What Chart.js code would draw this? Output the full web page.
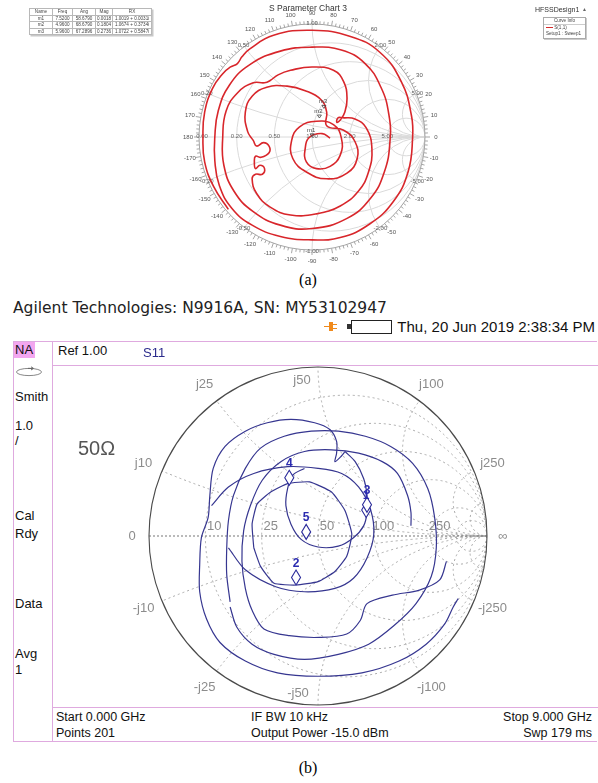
<!DOCTYPE html>
<html>
<head>
<meta charset="utf-8">
<script src="https://cdn.jsdelivr.net/npm/chart.js@4/dist/chart.umd.min.js"></script>
<style>
body { margin:0; width:598px; height:783px; position:relative; background:#fff; overflow:hidden;
       font-family:"Liberation Sans", Arial, sans-serif; }
.abs { position:absolute; white-space:nowrap; }
.tbl { position:absolute; left:29px; top:8px; border-collapse:collapse; font-size:4.6px; color:#444;
       background:#fff; box-shadow:1.5px 1.5px 0 #c8c8c8; }
.tbl td, .tbl th { border:1px solid #b8b8b8; padding:0 1px; height:5.6px; line-height:5.6px;
       font-weight:normal; text-align:center; }
.pk { position:absolute; background:#dfaadf; }
.na { font-size:13px; color:#111; }
.cap { position:absolute; width:60px; text-align:center; font-family:"Liberation Serif", "Times New Roman", serif; font-size:16px; }
</style>
</head>
<body>

<!-- (a) HFSS smith chart -->
<canvas id="chartA" class="abs" style="left:0;top:0" width="598" height="268"></canvas>
<div class="abs" style="left:208px;top:3px;width:200px;text-align:center;font-size:8.5px;color:#333">S Parameter Chart 3</div>
<table class="tbl" id="mkTable">
  <tr><th style="width:20px">Name</th><th style="width:17px">Freq</th><th style="width:20px">Ang</th><th style="width:14px">Mag</th><th style="width:36px">RX</th></tr>
</table>
<div class="abs" style="left:535px;top:6px;font-size:7px;color:#333">HFSSDesign1</div>
<div class="abs" style="left:582px;top:6px;font-size:5px;color:#666">&#9650;</div>
<div class="abs" style="left:543px;top:17px;width:41px;height:20px;border:1px solid #aaa;box-shadow:1px 1px 0 #ccc;font-size:4.6px;color:#444;line-height:6px">
  <div style="text-align:center;border-bottom:1px solid #ccc">Curve Info</div>
  <div style="padding-left:2px"><span style="display:inline-block;width:7px;border-top:1px solid #d62a2a;vertical-align:middle"></span> S(1,1)</div>
  <div style="padding-left:2px">Setup1 : Sweep1</div>
</div>
<div class="cap" style="left:278px;top:271px">(a)</div>

<!-- (b) analyzer screen -->
<div class="abs" style="left:13px;top:299px;font-size:15.5px;color:#222;font-family:'DejaVu Sans'">Agilent Technologies: N9916A, SN: MY53102947</div>
<svg class="abs" style="left:323px;top:320px" width="16" height="13" viewBox="0 0 16 13">
  <path d="M1 6 L6 6 L6 2 L10 2 L10 4 L14 4 L14 5 L10 5 L10 8 L14 8 L14 9 L10 9 L10 11 L6 11 L6 7 L1 7 Z" fill="#f08a1c"/>
</svg>
<div class="abs" style="left:347px;top:324px;width:4px;height:5px;background:#333"></div>
<div class="abs" style="left:351px;top:320px;width:39px;height:12px;border:1px solid #222;background:#fff"></div>
<div class="abs" style="right:3px;top:318px;font-size:15px;color:#111">Thu, 20 Jun 2019 2:38:34 PM</div>

<div class="pk" style="left:13px;top:341px;width:584px;height:1px"></div>
<div class="pk" style="left:13px;top:741px;width:584px;height:1px"></div>
<div class="pk" style="left:13px;top:341px;width:1px;height:401px"></div>
<div class="pk" style="left:52px;top:341px;width:1px;height:401px"></div>
<div class="pk" style="left:52px;top:365px;width:546px;height:1px"></div>
<div class="pk" style="left:52px;top:707px;width:546px;height:1px"></div>
<div class="abs" style="left:14px;top:342px;width:21px;height:16px;background:#f3a6f0"></div>

<canvas id="chartB" class="abs" style="left:53px;top:366px" width="543" height="340"></canvas>

<div class="abs na" style="left:15px;top:342px">NA</div>
<svg class="abs" style="left:15px;top:366px" width="30" height="12" viewBox="0 0 30 12">
  <ellipse cx="14" cy="6" rx="12.5" ry="3.6" fill="none" stroke="#888" stroke-width="1"/>
  <path d="M13 2.4 L18 2.4 M16 0.8 L18.5 2.4 L16 4" fill="none" stroke="#666" stroke-width="1"/>
</svg>
<div class="abs na" style="left:15px;top:389px">Smith</div>
<div class="abs na" style="left:15px;top:418px">1.0</div>
<div class="abs na" style="left:15px;top:433px">/</div>
<div class="abs na" style="left:15px;top:508px">Cal</div>
<div class="abs na" style="left:15px;top:526px">Rdy</div>
<div class="abs na" style="left:15px;top:596px">Data</div>
<div class="abs na" style="left:15px;top:646px">Avg</div>
<div class="abs na" style="left:15px;top:662px">1</div>

<div class="abs na" style="left:58px;top:343px">Ref 1.00</div>
<div class="abs" style="left:143px;top:345px;font-size:13px;color:#2c2c8c">S11</div>
<div class="abs" style="left:78px;top:437px;font-size:20px;color:#555">50&Omega;</div>

<div class="abs na" style="left:56px;top:710px;font-size:12.5px">Start 0.000 GHz</div>
<div class="abs na" style="left:56px;top:726px;font-size:12.5px">Points 201</div>
<div class="abs na" style="left:251px;top:710px;font-size:12.5px">IF BW 10 kHz</div>
<div class="abs na" style="left:251px;top:726px;font-size:12.5px">Output Power -15.0 dBm</div>
<div class="abs na" style="right:6px;top:710px;font-size:12.5px">Stop 9.000 GHz</div>
<div class="abs na" style="right:6px;top:726px;font-size:12.5px">Swp 179 ms</div>
<div class="cap" style="left:278px;top:759px">(b)</div>

<script>
// ---------- chart (a): HFSS S(1,1), reflection coefficient [re, im] ----------
var traceA = [
  [-0.74,-0.64],[-0.87,-0.44],[-0.95,-0.22],[-0.965,0.0],[-0.95,0.22],[-0.88,0.43],[-0.79,0.56],
  [-0.72,0.62],[-0.66,0.65],[-0.62,0.71],[-0.55,0.78],[-0.34,0.90],[0.0,0.945],[0.34,0.89],
  [0.60,0.75],[0.79,0.49],[0.88,0.19],[0.89,-0.01],[0.85,-0.31],[0.72,-0.57],[0.51,-0.77],
  [0.25,-0.89],[0.0,-0.91],[-0.28,-0.88],[-0.53,-0.78],[-0.71,-0.63],[-0.82,-0.43],
  [-0.86,-0.21],[-0.86,0.0],[-0.83,0.23],[-0.73,0.46],[-0.55,0.64],[-0.28,0.76],[0.0,0.795],
  [0.26,0.77],[0.47,0.65],[0.61,0.44],[0.68,0.20],[0.69,-0.04],[0.64,-0.31],[0.52,-0.54],
  [0.31,-0.72],[0.0,-0.81],[-0.28,-0.78],[-0.52,-0.66],[-0.69,-0.48],[-0.78,-0.25],
  [-0.79,0.0],[-0.76,0.23],[-0.66,0.39],[-0.52,0.48],[-0.42,0.48],[-0.37,0.50],[-0.30,0.55],
  [-0.19,0.59],[0.0,0.62],[0.19,0.59],[0.28,0.49],[0.31,0.34],[0.29,0.22],[0.25,0.15],
  [0.22,0.13],[0.23,0.17],[0.27,0.17],[0.38,0.16],[0.48,0.08],[0.53,-0.10],[0.50,-0.31],
  [0.41,-0.48],[0.25,-0.61],[0.04,-0.68],[-0.19,-0.69],[-0.37,-0.62],[-0.49,-0.50],
  [-0.53,-0.37],[-0.50,-0.33],[-0.44,-0.33],[-0.42,-0.28],[-0.46,-0.25],[-0.50,-0.28],[-0.51,-0.22],
  [-0.50,-0.17],[-0.45,-0.18],[-0.38,-0.14],[-0.38,-0.08],[-0.43,-0.05],[-0.49,-0.08],[-0.52,-0.03],
  [-0.57,0.05],[-0.59,0.22],[-0.53,0.36],[-0.40,0.44],[-0.22,0.45],[-0.06,0.41],[0.08,0.33],
  [0.13,0.22],[0.13,0.10],[0.28,0.06],[0.38,-0.04],[0.40,-0.19],[0.31,-0.32],[0.13,-0.37],
  [-0.05,-0.31],[-0.17,-0.19],[-0.18,-0.03],[-0.11,0.09],[0.04,0.14],[0.19,0.11],[0.26,-0.01],
  [0.25,-0.16],[0.16,-0.26],[0.04,-0.28],[-0.05,-0.22],[-0.06,-0.10],[-0.02,0.0],[0.09,0.03],[0.16,-0.01]
];
var markerA_name = ['m1', 'm2', 'm3'];
var markerA_freq = ['7.5200', '4.9600', '5.9600'];
var markerA_ang  = [58.6790, 68.6790, 67.2896];
var markerA_mag  = [0.0018, 0.1804, 0.2736];
var markerA_rx   = ['1.0019 + 0.0031i', '1.0674 + 0.3734i', '1.0722 + 0.5847i'];
var resistA = [0.2, 0.5, 1, 2, 5];
var resistA_lbl = ['0.20', '0.50', '1.00', '2.00', '5.00'];
var reactA = [0.2, 0.5, 1, 2, 5];
var reactA_lbl = ['0.20', '0.50', '1.00', '2.00', '5.00'];
var degA_lbl = [0,10,20,30,40,50,60,70,80,90,100,110,120,130,140,150,160,170,180,
                -170,-160,-150,-140,-130,-120,-110,-100,-90,-80,-70,-60,-50,-40,-30,-20,-10];

// ---------- chart (b): analyzer S11 trace pieces [re, im] ----------
var traceB1 = [
  [0.83,-0.37],[0.80,-0.42],[0.75,-0.52],[0.64,-0.64],[0.48,-0.74],[0.26,-0.81],[0.0,-0.83],
  [-0.24,-0.81],[-0.43,-0.74],[-0.58,-0.63],[-0.66,-0.49],[-0.70,-0.33],[-0.70,-0.17],[-0.69,-0.01],
  [-0.65,0.11],[-0.64,0.24],[-0.62,0.40],[-0.55,0.53],[-0.43,0.62],[-0.30,0.67],[-0.16,0.69],
  [-0.02,0.67],[0.07,0.63],[0.11,0.56],[0.11,0.49],[0.10,0.44],[0.14,0.475],[0.16,0.50]
];
var traceB2 = [
  [-0.52,-0.39],[-0.54,-0.23],[-0.54,-0.07],[-0.53,0.09],[-0.50,0.24],[-0.43,0.40],[-0.34,0.52],
  [-0.20,0.59],[-0.04,0.62],[0.12,0.62],[0.28,0.59],[0.43,0.53],[0.56,0.43],[0.65,0.28],
  [0.69,0.11],[0.70,-0.07],[0.67,-0.24],[0.58,-0.40],[0.45,-0.53],[0.30,-0.64],[0.12,-0.70],
  [-0.08,-0.73],[-0.26,-0.70],[-0.39,-0.64],[-0.48,-0.54],[-0.52,-0.42]
];
var traceB3 = [
  [0.76,-0.15],[0.72,-0.26],[0.60,-0.32],[0.44,-0.35],[0.29,-0.40],[0.25,-0.50],[0.17,-0.58],
  [0.01,-0.60],[-0.17,-0.59],[-0.32,-0.55],[-0.39,-0.44],[-0.43,-0.31],[-0.45,-0.15],[-0.44,0.03],
  [-0.40,0.18],[-0.33,0.33],[-0.22,0.44],[-0.08,0.50],[0.08,0.51],[0.24,0.49],[0.38,0.44],
  [0.47,0.37],[0.53,0.24],[0.55,0.14],[0.55,0.06]
];
var traceB4 = [
  [-0.38,-0.07],[-0.39,0.07],[-0.36,0.19],[-0.28,0.26],[-0.18,0.31],[-0.05,0.32],[0.08,0.26],
  [0.16,0.15],[0.20,0.01],[0.17,-0.12],[0.10,-0.21],[0.0,-0.27],[-0.13,-0.29],[-0.26,-0.28],
  [-0.34,-0.18],[-0.38,-0.07]
];
var traceB5 = [
  [-0.63,0.18],[-0.53,0.29],[-0.38,0.37],[-0.18,0.41],[0.0,0.40],[0.14,0.37],[0.24,0.29],
  [0.31,0.16],[0.33,0.01],[0.29,-0.13],[0.21,-0.25],[0.10,-0.31],[-0.08,-0.33],[-0.25,-0.30],
  [-0.43,-0.20],[-0.53,-0.07]
];
var traceB6 = [
  [0.16,0.50],[0.22,0.44],[0.27,0.34],[0.29,0.24],[0.29,0.14],[0.27,0.06],[0.21,-0.01],
  [0.12,-0.06],[0.0,-0.065],[-0.10,-0.02],[-0.16,0.07],[-0.19,0.18],[-0.18,0.28],[-0.15,0.36],[-0.08,0.40]
];
var markerB_lbl = ['1', '2', '3', '4', '5'];
var markerB_re  = [0.285, -0.13, 0.29, -0.17, -0.07];
var markerB_im  = [0.11, -0.29, 0.14, 0.30, -0.02];
var resistB = [0.2, 0.5, 1, 2, 5, 10];
var resistB_lbl = ['10', '25', '50', '100', '250'];
var reactB = [0.2, 0.5, 1, 2, 5, 10];
var reactB_lbl = ['j10', 'j25', 'j50', 'j100', 'j250'];

// marker table rows
var tb = document.getElementById('mkTable');
for (var i = 0; i < markerA_name.length; i++) {
  var tr = document.createElement('tr');
  [markerA_name[i], markerA_freq[i], markerA_ang[i].toFixed(4), markerA_mag[i].toFixed(4), markerA_rx[i]].forEach(function (t) {
    var td = document.createElement('td'); td.textContent = t; tr.appendChild(td);
  });
  tb.appendChild(tr);
}

function geo(chart) {
  var xs = chart.scales.x, ys = chart.scales.y;
  var cx = xs.getPixelForValue(0), cy = ys.getPixelForValue(0);
  return { xs: xs, ys: ys, cx: cx, cy: cy, R: xs.getPixelForValue(1) - cx };
}

function drawGrid(ctx, g, rs, xsv) {
  ctx.save();
  ctx.beginPath(); ctx.arc(g.cx, g.cy, g.R, 0, Math.PI * 2); ctx.clip();
  rs.forEach(function (r) {
    ctx.beginPath(); ctx.arc(g.cx + g.R * r / (1 + r), g.cy, g.R / (1 + r), 0, Math.PI * 2); ctx.stroke();
  });
  xsv.forEach(function (x) {
    [x, -x].forEach(function (v) {
      ctx.beginPath(); ctx.arc(g.cx + g.R, g.cy - g.R / v, g.R / Math.abs(v), 0, Math.PI * 2); ctx.stroke();
    });
  });
  ctx.restore();
}

var gridA = {
  id: 'gridA',
  beforeDatasetsDraw: function (chart) {
    var ctx = chart.ctx, g = geo(chart);
    ctx.save();
    ctx.strokeStyle = '#dadada'; ctx.lineWidth = 1;
    drawGrid(ctx, g, resistA, reactA);
    ctx.beginPath(); ctx.moveTo(g.cx - g.R, g.cy); ctx.lineTo(g.cx + g.R, g.cy); ctx.stroke();
    // degree ring
    ctx.strokeStyle = '#a5a5a5';
    ctx.beginPath(); ctx.arc(g.cx, g.cy, g.R, 0, Math.PI * 2); ctx.stroke();
    for (var d = 0; d < 360; d += 2) {
      var a = d * Math.PI / 180, len = (d % 10 === 0) ? 5 : 3;
      ctx.beginPath();
      ctx.moveTo(g.cx + g.R * Math.cos(a), g.cy - g.R * Math.sin(a));
      ctx.lineTo(g.cx + (g.R + len) * Math.cos(a), g.cy - (g.R + len) * Math.sin(a));
      ctx.stroke();
    }
    ctx.fillStyle = '#555'; ctx.font = '6px "Liberation Sans"';
    ctx.textAlign = 'center'; ctx.textBaseline = 'middle';
    degA_lbl.forEach(function (d) {
      var a = d * Math.PI / 180;
      ctx.fillText(String(d), g.cx + (g.R + 11) * Math.cos(a), g.cy - (g.R + 11) * Math.sin(a));
    });
    ctx.fillStyle = '#666';
    resistA.forEach(function (r, i) {
      ctx.fillText(resistA_lbl[i], g.xs.getPixelForValue((r - 1) / (r + 1)), g.cy - 1);
    });
    ctx.fillText('0.00', g.cx - g.R + 3, g.cy - 1);
    reactA.forEach(function (x, i) {
      var a = 2 * Math.atan(1 / x);
      ctx.fillText(reactA_lbl[i], g.cx + (g.R + 1) * Math.cos(a), g.cy - (g.R + 1) * Math.sin(a));
      ctx.fillText('-' + reactA_lbl[i], g.cx + (g.R + 1) * Math.cos(a), g.cy + (g.R + 1) * Math.sin(a));
    });
    ctx.restore();
  },
  afterDatasetsDraw: function (chart) {
    var ctx = chart.ctx, g = geo(chart);
    ctx.save();
    ctx.strokeStyle = '#444'; ctx.fillStyle = '#444'; ctx.lineWidth = 0.8;
    ctx.font = '6px "Liberation Sans"'; ctx.textAlign = 'center';
    markerA_name.forEach(function (n, i) {
      var a = markerA_ang[i] * Math.PI / 180;
      var px = g.xs.getPixelForValue(markerA_mag[i] * Math.cos(a));
      var py = g.ys.getPixelForValue(markerA_mag[i] * Math.sin(a));
      ctx.beginPath(); ctx.moveTo(px - 2, py - 3); ctx.lineTo(px + 2, py - 3); ctx.lineTo(px, py); ctx.closePath(); ctx.stroke();
      ctx.fillText(n, px - 1, py - 5);
    });
    ctx.restore();
  }
};

var gridB = {
  id: 'gridB',
  beforeDatasetsDraw: function (chart) {
    var ctx = chart.ctx, g = geo(chart);
    ctx.save();
    ctx.strokeStyle = '#aaaaaa'; ctx.lineWidth = 1; ctx.setLineDash([2, 3]);
    drawGrid(ctx, g, resistB, reactB);
    ctx.strokeStyle = '#777'; ctx.setLineDash([2, 2]);
    ctx.beginPath(); ctx.moveTo(g.cx - g.R, g.cy); ctx.lineTo(g.cx + g.R, g.cy); ctx.stroke();
    ctx.setLineDash([]);
    ctx.strokeStyle = '#4a4a4a'; ctx.lineWidth = 1.1;
    ctx.beginPath(); ctx.arc(g.cx, g.cy, g.R, 0, Math.PI * 2); ctx.stroke();
    ctx.fillStyle = '#8c8c8c'; ctx.font = '13px "Liberation Sans"';
    ctx.textAlign = 'center'; ctx.textBaseline = 'middle';
    resistB_lbl.forEach(function (t, i) {
      var r = resistB[i];
      ctx.fillText(t, g.xs.getPixelForValue((r - 1) / (r + 1)) + 9, g.cy - 10);
    });
    reactB_lbl.forEach(function (t, i) {
      var x = reactB[i], a = 2 * Math.atan(1 / x), px, py;
      if (x === 1) {
        ctx.fillText(t, g.cx - 16, g.cy - g.R + 13);
        ctx.fillText('-' + t, g.cx - 20, g.cy + g.R - 12);
        return;
      }
      px = g.cx + (g.R + 20) * Math.cos(a); py = g.cy - (g.R + 20) * Math.sin(a);
      ctx.fillText(t, px, py);
      ctx.fillText('-' + t, px, g.cy + (g.R + 20) * Math.sin(a));
    });
    ctx.fillText('0', g.cx - g.R - 17, g.cy);
    ctx.fillText('\u221e', g.cx + g.R + 16, g.cy);
    ctx.restore();
  },
  afterDatasetsDraw: function (chart) {
    var ctx = chart.ctx, g = geo(chart);
    ctx.save();
    ctx.strokeStyle = '#2a2a9a'; ctx.fillStyle = '#fff'; ctx.lineWidth = 1.1;
    ctx.font = 'bold 12px "Liberation Sans"'; ctx.textAlign = 'center'; ctx.textBaseline = 'alphabetic';
    markerB_lbl.forEach(function (t, i) {
      var px = g.xs.getPixelForValue(markerB_re[i]), py = g.ys.getPixelForValue(markerB_im[i]);
      ctx.beginPath();
      ctx.moveTo(px, py); ctx.lineTo(px + 4.5, py - 7.5); ctx.lineTo(px, py - 15); ctx.lineTo(px - 4.5, py - 7.5);
      ctx.closePath(); ctx.fill(); ctx.stroke();
    });
    ctx.fillStyle = '#2b2bb0';
    markerB_lbl.forEach(function (t, i) {
      var px = g.xs.getPixelForValue(markerB_re[i]), py = g.ys.getPixelForValue(markerB_im[i]);
      ctx.fillText(t, px, py - 18);
    });
    ctx.restore();
  }
};

function line(pts, color, width, tension) {
  return {
    data: pts.map(function (p) { return { x: p[0], y: p[1] }; }),
    showLine: true, borderColor: color, borderWidth: width, pointRadius: 0, tension: tension, fill: false
  };
}

function smithChart(id, cx, cy, R, datasets, plugin) {
  var cv = document.getElementById(id);
  return new Chart(cv, {
    type: 'scatter',
    data: { datasets: datasets },
    options: {
      responsive: false, animation: false, devicePixelRatio: 1,
      layout: { padding: 0 },
      plugins: { legend: { display: false }, tooltip: { enabled: false } },
      scales: {
        x: { type: 'linear', display: false, min: -cx / R, max: (cv.width - cx) / R },
        y: { type: 'linear', display: false, min: -(cv.height - cy) / R, max: cy / R }
      }
    },
    plugins: [plugin]
  });
}

smithChart('chartA', 312, 137, 113, [line(traceA, '#d8262b', 1.6, 0.45)], gridA);

var blue = '#363690';
smithChart('chartB', 265, 170, 169, [
  line(traceB1, blue, 1.2, 0.3), line(traceB2, blue, 1.2, 0.3), line(traceB3, blue, 1.2, 0.3),
  line(traceB4, blue, 1.2, 0.15), line(traceB5, blue, 1.2, 0.3), line(traceB6, blue, 1.2, 0.3)
], gridB);
</script>
</body>
</html>
